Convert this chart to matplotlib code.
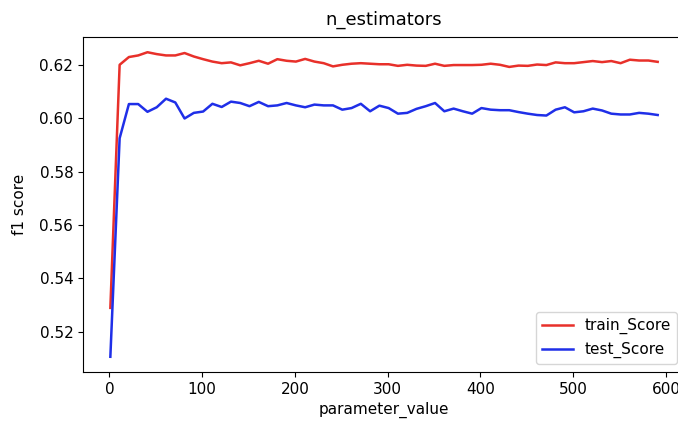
import matplotlib
matplotlib.use("Agg")
import matplotlib.pyplot as plt

# valores de n_estimators probados
param_values = list(range(1, 600, 10))

train_score = [
    0.5290, 0.6200, 0.6229, 0.6235, 0.6247, 0.6240, 0.6235, 0.6235, 0.6244, 0.6231,
    0.6221, 0.6212, 0.6206, 0.6209, 0.6198, 0.6206, 0.6215, 0.6204, 0.6221, 0.6215,
    0.6212, 0.6222, 0.6212, 0.6206, 0.6194, 0.6200, 0.6204, 0.6206, 0.6204, 0.6202,
    0.6202, 0.6196, 0.6200, 0.6197, 0.6196, 0.6204, 0.6196, 0.6199, 0.6199, 0.6199,
    0.6200, 0.6204, 0.6200, 0.6192, 0.6197, 0.6196, 0.6201, 0.6199, 0.6209, 0.6206,
    0.6206, 0.6210, 0.6214, 0.6210, 0.6214, 0.6206, 0.6219, 0.6216, 0.6216, 0.6211,
]

test_score = [
    0.5107, 0.5925, 0.6053, 0.6053, 0.6024, 0.6041, 0.6073, 0.6059, 0.5999, 0.6020,
    0.6025, 0.6054, 0.6042, 0.6062, 0.6057, 0.6045, 0.6061, 0.6045, 0.6048, 0.6057,
    0.6048, 0.6041, 0.6051, 0.6048, 0.6048, 0.6032, 0.6038, 0.6054, 0.6026, 0.6047,
    0.6038, 0.6017, 0.6020, 0.6035, 0.6045, 0.6057, 0.6026, 0.6036, 0.6026, 0.6017,
    0.6038, 0.6032, 0.6030, 0.6030, 0.6023, 0.6017, 0.6012, 0.6010, 0.6032, 0.6041,
    0.6022, 0.6026, 0.6036, 0.6029, 0.6017, 0.6014, 0.6014, 0.6020, 0.6017, 0.6012,
]

plt.rcParams["font.size"] = 11

fig = plt.figure(figsize=(6.78, 4.21), dpi=100)
ax = fig.add_axes([0.1224, 0.1164, 0.888, 0.7957])

ax.plot(param_values, train_score, color="#e8302a", lw=1.8, label="train_Score")
ax.plot(param_values, test_score, color="#1f2fe8", lw=1.8, label="test_Score")
ax.set_title("n_estimators", fontsize=13, pad=9)
ax.set_xlabel("parameter_value", labelpad=4)
ax.set_ylabel("f1 score", labelpad=9)
ax.legend(loc="lower right")

fig.savefig("out.png", dpi=100)
